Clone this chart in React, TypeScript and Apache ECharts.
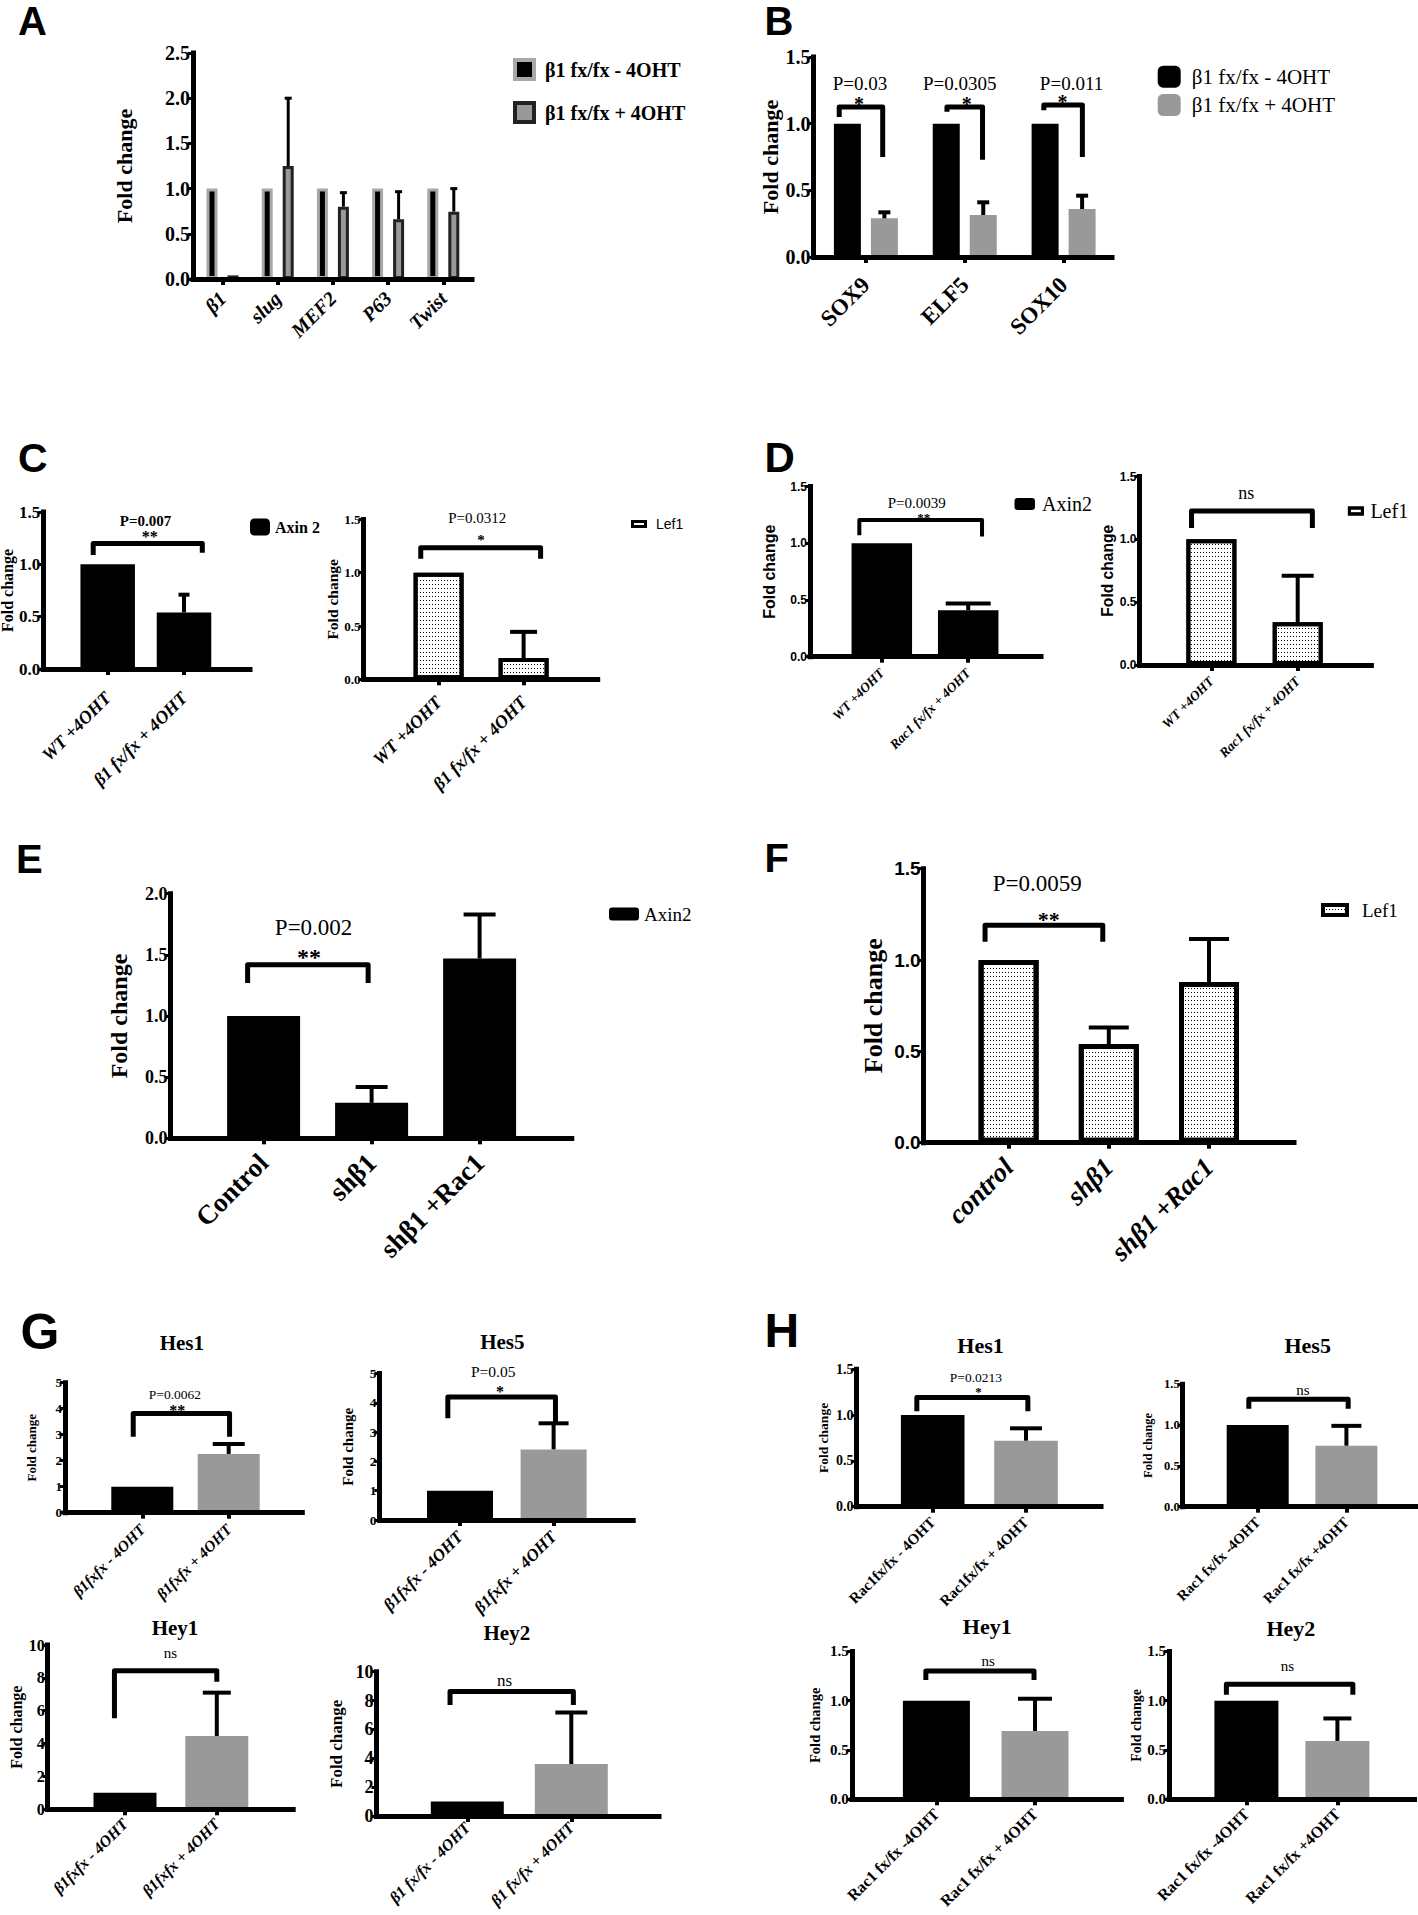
import React, { useEffect, useRef } from "react";
import * as echarts from "echarts";

const SERIF = "Liberation Serif";
const SANS = "Liberation Sans";
const BLACK = "#000000";
const GRAY = "#999999";

// ================= DATA =================
// Panel A
const aCategories = ["β1", "slug", "MEF2", "P63", "Twist"];
const aLegend = ["β1 fx/fx - 4OHT", "β1 fx/fx + 4OHT"];
const aMinus4OHT = [1, 1, 1, 1, 1];
const aPlus4OHT = [0.04, 1.25, 0.8, 0.66, 0.745];
const aMinusErrTop = [null, null, null, null, null];
const aPlusErrTop = [null, 2.0, 0.955, 0.966, 1.0];

// Panel B
const bCategories = ["SOX9", "ELF5", "SOX10"];
const bLegend = ["β1 fx/fx - 4OHT", "β1 fx/fx + 4OHT"];
const bMinus4OHT = [1, 1, 1];
const bPlus4OHT = [0.29, 0.315, 0.36];
const bMinusErrTop = [null, null, null];
const bPlusErrTop = [0.335, 0.41, 0.46];
const bPLabels = ["P=0.03", "P=0.0305", "P=0.011"];
const bStars = ["*", "*", "*"];
// [leftX, rightX (category units), top, leftEnd, rightEnd]
const bBrackets = [
  [-0.27, 0.17, 1.125, 1.05, 0.75],
  [0.82, 1.18, 1.125, 1.09, 0.73],
  [1.8, 2.19, 1.14, 1.1, 0.75],
];

// Panel C
const cCategories = ["WT +4OHT", "β1 fx/fx + 4OHT"];
const cAxin2 = [1.0, 0.54];
const cAxin2ErrTop = [null, 0.71];
const cAxin2Bracket = [[-0.19, 1.24, 1.2, 1.09, 1.11]];
const cLef1 = [1.0, 0.2];
const cLef1ErrTop = [null, 0.445];
const cLef1Bracket = [[-0.21, 1.2, 1.235, 1.13, 1.13]];

// Panel D
const dCategories = ["WT +4OHT", "Rac1 fx/fx + 4OHT"];
const dAxin2 = [1.0, 0.41];
const dAxin2ErrTop = [null, 0.47];
const dAxin2Bracket = [[-0.26, 1.16, 1.205, 1.07, 1.06]];
const dLef1 = [1.0, 0.34];
const dLef1ErrTop = [null, 0.71];
const dLef1Bracket = [[-0.23, 1.17, 1.225, 1.09, 1.09]];

// Panel E
const eCategories = ["Control", "shβ1", "shβ1 +Rac1"];
const eAxin2 = [1.0, 0.29, 1.47];
const eAxin2ErrTop = [null, 0.42, 1.83];
const eBracket = [[-0.148, 0.968, 1.42, 1.27, 1.27]];

// Panel F
const fCategories = ["control", "shβ1", "shβ1 +Rac1"];
const fLef1 = [1.0, 0.54, 0.88];
const fLef1ErrTop = [null, 0.63, 1.115];
const fBracket = [[-0.235, 0.94, 1.19, 1.1, 1.1]];

// Panel G
const gCatsShort = ["β1fxfx - 4OHT", "β1fxfx + 4OHT"];
const gCatsLong = ["β1 fx/fx - 4OHT", "β1 fx/fx + 4OHT"];
const gHes1 = [1.0, 2.26];
const gHes1ErrTop = [null, 2.64];
const gHes1Bracket = [[-0.105, 1.01, 3.82, 2.92, 2.92]];
const gHes5 = [1.0, 2.41];
const gHes5ErrTop = [null, 3.3];
const gHes5Bracket = [[-0.13, 1.02, 4.2, 3.47, 3.3]];
const gHey1 = [1.0, 4.46];
const gHey1ErrTop = [null, 7.1];
const gHey1Bracket = [[-0.115, 1.0, 8.44, 5.54, 7.77]];
const gHey2 = [1.0, 3.6];
const gHey2ErrTop = [null, 7.17];
const gHey2Bracket = [[-0.166, 1.02, 8.63, 7.7, 7.7]];

// Panel H
const hCatsHes1 = ["Rac1fx/fx - 4OHT", "Rac1fx/fx + 4OHT"];
const hCatsHes5 = ["Rac1 fx/fx -4OHT", "Rac1 fx/fx +4OHT"];
const hCatsHey1 = ["Rac1 fx/fx -4OHT", "Rac1 fx/fx + 4OHT"];
const hCatsHey2 = ["Rac1 fx/fx -4OHT", "Rac1 fx/fx +4OHT"];
const hHes1 = [1.0, 0.72];
const hHes1ErrTop = [null, 0.855];
const hHes1Bracket = [[-0.17, 1.02, 1.19, 1.04, 1.04]];
const hHes5 = [1.0, 0.747];
const hHes5ErrTop = [null, 0.99];
const hHes5Bracket = [[-0.1, 1.02, 1.315, 1.2, 1.2]];
const hHey1 = [1.0, 0.693];
const hHey1ErrTop = [null, 1.02];
const hHey1Bracket = [[-0.107, 0.99, 1.3, 1.21, 1.21]];
const hHey2 = [1.0, 0.592];
const hHey2ErrTop = [null, 0.82];
const hHey2Bracket = [[-0.22, 1.17, 1.166, 1.06, 1.06]];

const pairColors = [BLACK, GRAY];

// ================= STYLES =================
const dotDecal = {
  symbol: "rect",
  symbolSize: 1,
  dashArrayX: [1, 2],
  dashArrayY: [1, 3],
  color: "#000",
};
const dotted = (bw: number) => ({ color: "#ffffff", borderColor: "#000", borderWidth: bw, decal: dotDecal });

type Panel = any;

const panels: Panel[] = [
  // ---------- A ----------
  {
    axisX: 193, axisEnd: 472, zeroY: 279, maxY: 53, c0: 222.5, step: 55.2,
    yMax: 2.5, yInt: 0.5, dec: 1, yLabelSize: 20, yLabelFamily: SERIF,
    yTitleSize: 22, yTitleFamily: SERIF, yTitleGap: 58,
    cats: aCategories, xLabelSize: 20, xItalic: true, xMargin: 16,
    barWidth: 11, barGapPx: 10,
    bars: [
      { name: "A-1", label: aLegend[0], values: aMinus4OHT, errTop: aMinusErrTop, style: { color: BLACK, borderColor: "#a8a8a8", borderWidth: 3 } },
      { name: "A-2", label: aLegend[1], values: aPlus4OHT, errTop: aPlusErrTop, style: { color: GRAY, borderColor: "#222", borderWidth: 3 } },
    ],
    errLW: 3, errCap: 7, brackets: [], bracketLW: 5, notes: [], axisLW: 5,
    legend: {
      left: 513, top: 58, w: 19, h: 19, gap: 20, size: 20, bold: true, family: SERIF, pad: 6, icon: "rect",
      items: [
        { bar: 0, style: { color: BLACK, borderColor: "#a8a8a8", borderWidth: 4 } },
        { bar: 1, style: { color: GRAY, borderColor: "#222", borderWidth: 4 } },
      ],
    },
  },
  // ---------- B ----------
  {
    axisX: 813.6, axisEnd: 1112, zeroY: 257, maxY: 57, c0: 865.9, step: 98.85,
    yMax: 1.5, yInt: 0.5, dec: 1, yLabelSize: 20, yLabelFamily: SERIF,
    yTitleSize: 22, yTitleFamily: SERIF, yTitleGap: 31,
    cats: bCategories, xLabelSize: 23, xItalic: false, xMargin: 24,
    barWidth: 27, barGapPx: 10,
    bars: [
      { name: "B-1", label: bLegend[0], values: bMinus4OHT, errTop: bMinusErrTop, style: { color: BLACK } },
      { name: "B-2", label: bLegend[1], values: bPlus4OHT, errTop: bPlusErrTop, style: { color: GRAY } },
    ],
    errLW: 4, errCap: 12, brackets: bBrackets, bracketLW: 5, axisLW: 5,
    notes: [
      { text: bPLabels[0], x: -0.06, y: 1.305, size: 19 },
      { text: bPLabels[1], x: 0.95, y: 1.305, size: 19 },
      { text: bPLabels[2], x: 2.08, y: 1.305, size: 19 },
      { text: bStars[0], x: -0.07, y: 1.145, size: 20, bold: true },
      { text: bStars[1], x: 1.02, y: 1.145, size: 20, bold: true },
      { text: bStars[2], x: 1.99, y: 1.16, size: 20, bold: true },
    ],
    legend: {
      left: 1157.7, top: 65.7, w: 23, h: 22, gap: 6.3, size: 21, family: SERIF, pad: 6, icon: "roundRect",
      items: [{ bar: 0, style: { color: BLACK } }, { bar: 1, style: { color: GRAY } }],
    },
  },
  // ---------- C left ----------
  {
    axisX: 43.2, axisEnd: 250, zeroY: 669, maxY: 512, c0: 107.7, step: 76.3,
    yMax: 1.5, yInt: 0.5, dec: 1, yLabelSize: 17, yLabelFamily: SERIF,
    yTitleSize: 16, yTitleFamily: SERIF, yTitleGap: 23,
    cats: cCategories, xLabelSize: 18, xItalic: true, xMargin: 26,
    barWidth: 54.5, barGapPx: 0,
    bars: [{ name: "C-Axin", label: "Axin 2", values: cAxin2, errTop: cAxin2ErrTop, style: { color: BLACK } }],
    errLW: 4, errCap: 11, brackets: cAxin2Bracket, bracketLW: 5, axisLW: 5,
    notes: [
      { text: "P=0.007", x: 0.495, y: 1.416, size: 15, bold: true },
      { text: "**", x: 0.55, y: 1.268, size: 16, bold: true },
    ],
    legend: {
      left: 250, top: 518.5, w: 20, h: 17, gap: 5, size: 16, bold: true, family: SERIF, pad: 0, icon: "roundRect",
      items: [{ bar: 0, style: { color: BLACK } }],
    },
  },
  // ---------- C right ----------
  {
    axisX: 363.6, axisEnd: 597.7, zeroY: 679.3, maxY: 519.4, c0: 438.6, step: 85,
    yMax: 1.5, yInt: 0.5, dec: 1, yLabelSize: 13, yLabelFamily: SERIF,
    yTitleSize: 15.5, yTitleFamily: SERIF, yTitleGap: 21.8,
    cats: cCategories, xLabelSize: 18, xItalic: true, xMargin: 20,
    barWidth: 50, barGapPx: 0,
    bars: [{ name: "C-Lef1", label: "Lef1", values: cLef1, errTop: cLef1ErrTop, style: dotted(4) }],
    errLW: 4, errCap: 27, brackets: cLef1Bracket, bracketLW: 5, axisLW: 5,
    notes: [
      { text: "P=0.0312", x: 0.455, y: 1.513, size: 15 },
      { text: "*", x: 0.5, y: 1.304, size: 15, bold: true },
    ],
    legend: {
      left: 631, top: 517, w: 13, h: 5, gap: 5, size: 14, family: SANS, pad: 5.5, icon: "rect",
      items: [{ bar: 0, style: dotted(3) }],
    },
  },
  // ---------- D left ----------
  {
    axisX: 810, axisEnd: 1041, zeroY: 656.7, maxY: 486.6, c0: 881.8, step: 86.4,
    yMax: 1.5, yInt: 0.5, dec: 1, yLabelSize: 12, yLabelFamily: SANS,
    yTitleSize: 16, yTitleFamily: SANS, yTitleGap: 33,
    cats: dCategories, xLabelSize: 13.5, xItalic: true, xMargin: 14,
    barWidth: 60.5, barGapPx: 0,
    bars: [{ name: "D-Axin", label: "Axin2", values: dAxin2, errTop: dAxin2ErrTop, style: { color: BLACK } }],
    errLW: 4, errCap: 45, brackets: dAxin2Bracket, bracketLW: 4, axisLW: 5,
    notes: [
      { text: "P=0.0039", x: 0.405, y: 1.353, size: 15 },
      { text: "**", x: 0.485, y: 1.224, size: 13, bold: true },
    ],
    legend: {
      left: 1014.5, top: 494, w: 20.5, h: 12, gap: 5, size: 20, family: SERIF, pad: 2, icon: "roundRect",
      items: [{ bar: 0, style: { color: BLACK } }],
    },
  },
  // ---------- D right ----------
  {
    axisX: 1139.5, axisEnd: 1371.4, zeroY: 665, maxY: 476.5, c0: 1211.4, step: 86.3,
    yMax: 1.5, yInt: 0.5, dec: 1, yLabelSize: 12, yLabelFamily: SANS,
    yTitleSize: 15.6, yTitleFamily: SANS, yTitleGap: 24,
    cats: dCategories, xLabelSize: 13.5, xItalic: true, xMargin: 14,
    barWidth: 50, barGapPx: 0,
    bars: [{ name: "D-Lef1", label: "Lef1", values: dLef1, errTop: dLef1ErrTop, style: dotted(4) }],
    errLW: 4, errCap: 32, brackets: dLef1Bracket, bracketLW: 5, axisLW: 5,
    notes: [{ text: "ns", x: 0.405, y: 1.367, size: 18 }],
    legend: {
      left: 1347.9, top: 501, w: 13, h: 6, gap: 5, size: 20, family: SERIF, pad: 3, icon: "rect",
      items: [{ bar: 0, style: { color: "#fff", borderColor: "#000", borderWidth: 3 } }],
    },
  },
  // ---------- E ----------
  {
    axisX: 170.5, axisEnd: 571.8, zeroY: 1138.3, maxY: 893.7, c0: 263.6, step: 108,
    yMax: 2, yInt: 0.5, dec: 1, yLabelSize: 18, yLabelFamily: SERIF,
    yTitleSize: 24, yTitleFamily: SERIF, yTitleGap: 39.5,
    cats: eCategories, xLabelSize: 27, xItalic: false, xMargin: 20,
    barWidth: 73, barGapPx: 0,
    bars: [{ name: "E-Axin", label: "Axin2", values: eAxin2, errTop: eAxin2ErrTop, style: { color: BLACK } }],
    errLW: 4, errCap: 32, brackets: eBracket, bracketLW: 5, axisLW: 5,
    notes: [
      { text: "P=0.002", x: 0.463, y: 1.725, size: 23 },
      { text: "**", x: 0.42, y: 1.482, size: 24, bold: true },
    ],
    legend: {
      left: 609, top: 904.5, w: 30, h: 13, gap: 5, size: 19, family: SERIF, pad: 0, icon: "roundRect",
      items: [{ bar: 0, style: { color: BLACK } }],
    },
  },
  // ---------- F ----------
  {
    axisX: 923.6, axisEnd: 1294, zeroY: 1142.7, maxY: 868.7, c0: 1008.6, step: 100.2,
    yMax: 1.5, yInt: 0.5, dec: 1, yLabelSize: 19, yLabelFamily: SANS,
    yTitleSize: 26, yTitleFamily: SERIF, yTitleGap: 37,
    cats: fCategories, xLabelSize: 27, xItalic: true, xMargin: 20,
    barWidth: 60, barGapPx: 0,
    bars: [{ name: "F-Lef1", label: "Lef1", values: fLef1, errTop: fLef1ErrTop, style: dotted(5) }],
    errLW: 4, errCap: 40, brackets: fBracket, bracketLW: 5, axisLW: 5,
    notes: [
      { text: "P=0.0059", x: 0.286, y: 1.42, size: 23 },
      { text: "**", x: 0.4, y: 1.22, size: 22, bold: true },
    ],
    legend: {
      left: 1321, top: 900.5, w: 24, h: 10, gap: 5, size: 19, family: SERIF, pad: 10, icon: "rect",
      items: [{ bar: 0, style: dotted(4) }],
    },
  },
  // ---------- G Hes1 ----------
  {
    axisX: 65, axisEnd: 302.3, zeroY: 1512.7, maxY: 1382.7, c0: 142.3, step: 86.4,
    yMax: 5, yInt: 1, dec: 0, yLabelSize: 13, yLabelFamily: SERIF,
    yTitleSize: 13, yTitleFamily: SERIF, yTitleGap: 26.7,
    cats: gCatsShort, xLabelSize: 15.5, xItalic: true, xMargin: 14,
    barWidth: 62, barGapPx: 0,
    bars: [{ name: "G-Hes1", label: "Hes1", values: gHes1, errTop: gHes1ErrTop, colors: pairColors, style: {} }],
    errLW: 4, errCap: 32, brackets: gHes1Bracket, bracketLW: 5, axisLW: 5,
    notes: [
      { text: "P=0.0062", x: 0.378, y: 4.55, size: 13.5 },
      { text: "**", x: 0.405, y: 3.94, size: 16, bold: true },
    ],
    title: { text: "Hes1", x: 181.8, y: 1343.3, size: 21 },
  },
  // ---------- G Hes5 ----------
  {
    axisX: 379.5, axisEnd: 633.2, zeroY: 1520, maxY: 1373.5, c0: 460, step: 93.6,
    yMax: 5, yInt: 1, dec: 0, yLabelSize: 13.5, yLabelFamily: SERIF,
    yTitleSize: 15, yTitleFamily: SERIF, yTitleGap: 24.3,
    cats: gCatsShort, xLabelSize: 17, xItalic: true, xMargin: 14,
    barWidth: 66, barGapPx: 0,
    bars: [{ name: "G-Hes5", label: "Hes5", values: gHes5, errTop: gHes5ErrTop, colors: pairColors, style: {} }],
    errLW: 4, errCap: 30, brackets: gHes5Bracket, bracketLW: 5, axisLW: 5,
    notes: [
      { text: "P=0.05", x: 0.355, y: 5.06, size: 15.5 },
      { text: "*", x: 0.427, y: 4.375, size: 16, bold: true },
    ],
    title: { text: "Hes5", x: 502.3, y: 1341.7, size: 21 },
  },
  // ---------- G Hey1 ----------
  {
    axisX: 47.7, axisEnd: 293.2, zeroY: 1809.3, maxY: 1645, c0: 125, step: 91.8,
    yMax: 10, yInt: 2, dec: 0, yLabelSize: 16, yLabelFamily: SERIF,
    yTitleSize: 16, yTitleFamily: SERIF, yTitleGap: 15,
    cats: gCatsShort, xLabelSize: 16, xItalic: true, xMargin: 12,
    barWidth: 63, barGapPx: 0,
    bars: [{ name: "G-Hey1", label: "Hey1", values: gHey1, errTop: gHey1ErrTop, colors: pairColors, style: {} }],
    errLW: 4, errCap: 28, brackets: gHey1Bracket, bracketLW: 5, axisLW: 5,
    notes: [{ text: "ns", x: 0.496, y: 9.52, size: 15 }],
    title: { text: "Hey1", x: 175, y: 1628.3, size: 21 },
  },
  // ---------- G Hey2 ----------
  {
    axisX: 376.4, axisEnd: 659, zeroY: 1816, maxY: 1671.7, c0: 467.3, step: 104,
    yMax: 10, yInt: 2, dec: 0, yLabelSize: 18, yLabelFamily: SERIF,
    yTitleSize: 17, yTitleFamily: SERIF, yTitleGap: 31.5,
    cats: gCatsLong, xLabelSize: 16, xItalic: true, xMargin: 9,
    barWidth: 73, barGapPx: 0,
    bars: [{ name: "G-Hey2", label: "Hey2", values: gHey2, errTop: gHey2ErrTop, colors: pairColors, style: {} }],
    errLW: 4, errCap: 32, brackets: gHey2Bracket, bracketLW: 5, axisLW: 5,
    notes: [{ text: "ns", x: 0.358, y: 9.36, size: 17 }],
    title: { text: "Hey2", x: 506.8, y: 1633.3, size: 21 },
  },
  // ---------- H Hes1 ----------
  {
    axisX: 856.4, axisEnd: 1101, zeroY: 1506.7, maxY: 1369.2, c0: 932.7, step: 93.3,
    yMax: 1.5, yInt: 0.5, dec: 1, yLabelSize: 14, yLabelFamily: SERIF,
    yTitleSize: 13.5, yTitleFamily: SERIF, yTitleGap: 26,
    cats: hCatsHes1, xLabelSize: 15, xItalic: false, xMargin: 13,
    barWidth: 63.6, barGapPx: 0,
    bars: [{ name: "H-Hes1", label: "Hes1", values: hHes1, errTop: hHes1ErrTop, colors: pairColors, style: {} }],
    errLW: 4, errCap: 32, brackets: hHes1Bracket, bracketLW: 5, axisLW: 5,
    notes: [
      { text: "P=0.0213", x: 0.463, y: 1.41, size: 13.5 },
      { text: "*", x: 0.49, y: 1.26, size: 13, bold: true },
    ],
    title: { text: "Hes1", x: 980.5, y: 1345, size: 22 },
  },
  // ---------- H Hes5 ----------
  {
    axisX: 1182.7, axisEnd: 1418, zeroY: 1506.7, maxY: 1384.2, c0: 1257.7, step: 88.7,
    yMax: 1.5, yInt: 0.5, dec: 1, yLabelSize: 12.5, yLabelFamily: SERIF,
    yTitleSize: 12.5, yTitleFamily: SERIF, yTitleGap: 27.8,
    cats: hCatsHes5, xLabelSize: 14.5, xItalic: false, xMargin: 13,
    barWidth: 62, barGapPx: 0,
    bars: [{ name: "H-Hes5", label: "Hes5", values: hHes5, errTop: hHes5ErrTop, colors: pairColors, style: {} }],
    errLW: 4, errCap: 30, brackets: hHes5Bracket, bracketLW: 5, axisLW: 5,
    notes: [{ text: "ns", x: 0.51, y: 1.43, size: 15 }],
    title: { text: "Hes5", x: 1307.7, y: 1345, size: 22 },
  },
  // ---------- H Hey1 ----------
  {
    axisX: 851.8, axisEnd: 1121.4, zeroY: 1799.3, maxY: 1651.4, c0: 936.4, step: 98.6,
    yMax: 1.5, yInt: 0.5, dec: 1, yLabelSize: 15, yLabelFamily: SERIF,
    yTitleSize: 14.5, yTitleFamily: SERIF, yTitleGap: 29,
    cats: hCatsHey1, xLabelSize: 16, xItalic: false, xMargin: 12,
    barWidth: 67, barGapPx: 0,
    bars: [{ name: "H-Hey1", label: "Hey1", values: hHey1, errTop: hHey1ErrTop, colors: pairColors, style: {} }],
    errLW: 4, errCap: 34, brackets: hHey1Bracket, bracketLW: 5, axisLW: 5,
    notes: [{ text: "ns", x: 0.525, y: 1.405, size: 15 }],
    title: { text: "Hey1", x: 987.3, y: 1626.7, size: 22 },
  },
  // ---------- H Hey2 ----------
  {
    axisX: 1169, axisEnd: 1414.5, zeroY: 1799.3, maxY: 1651.4, c0: 1246.4, step: 91,
    yMax: 1.5, yInt: 0.5, dec: 1, yLabelSize: 15, yLabelFamily: SERIF,
    yTitleSize: 14, yTitleFamily: SERIF, yTitleGap: 24.7,
    cats: hCatsHey2, xLabelSize: 16, xItalic: false, xMargin: 12,
    barWidth: 64, barGapPx: 0,
    bars: [{ name: "H-Hey2", label: "Hey2", values: hHey2, errTop: hHey2ErrTop, colors: pairColors, style: {} }],
    errLW: 4, errCap: 28, brackets: hHey2Bracket, bracketLW: 5, axisLW: 5,
    notes: [{ text: "ns", x: 0.45, y: 1.354, size: 15 }],
    title: { text: "Hey2", x: 1290.9, y: 1628.3, size: 22 },
  },
];

const panelLetters = [
  { text: "A", x: 18, y: 21, size: 40 },
  { text: "B", x: 764.5, y: 21, size: 40 },
  { text: "C", x: 18, y: 457.5, size: 41 },
  { text: "D", x: 764.5, y: 457, size: 42 },
  { text: "E", x: 16, y: 859, size: 40 },
  { text: "F", x: 764.5, y: 857.5, size: 40 },
  { text: "G", x: 20.5, y: 1331.5, size: 50 },
  { text: "H", x: 764.5, y: 1330.5, size: 48 },
];

function textStyle(text: string, size: number, family: string, weight: string, align: string) {
  return {
    text,
    fill: "#000",
    fontSize: size,
    fontFamily: family,
    fontWeight: weight,
    align,
    verticalAlign: "middle",
    textAlign: align,
    textVerticalAlign: "middle",
  };
}

function buildOption() {
  const opt: any = {
    animation: false,
    backgroundColor: "#ffffff",
    grid: [],
    xAxis: [],
    yAxis: [],
    series: [],
    legend: [],
    graphic: { elements: [] as any[] },
  };
  const labelMap: Record<string, string> = {};

  panels.forEach((p: any) => {
    const gi = opt.grid.length;
    const h = p.zeroY - p.maxY;
    opt.grid.push({
      left: p.axisX, top: p.maxY, width: p.axisEnd - p.axisX, height: h,
      containLabel: false, outerBoundsMode: "none",
    });
    opt.grid.push({
      left: p.c0 - p.step / 2, top: p.maxY, width: p.step * p.cats.length, height: h,
      containLabel: false, outerBoundsMode: "none",
    });

    const fx = opt.xAxis.length;
    opt.xAxis.push({
      type: "category", gridIndex: gi, data: [""], z: 6,
      axisLine: { show: true, lineStyle: { color: "#000", width: p.axisLW, cap: "square" } },
      axisTick: { show: false }, axisLabel: { show: false }, splitLine: { show: false },
    });
    opt.xAxis.push({
      type: "category", gridIndex: gi + 1, data: p.cats, z: 6,
      axisLine: { show: false },
      axisTick: { show: true, alignWithLabel: true, interval: 0, length: 6, lineStyle: { color: "#000", width: 4 } },
      axisLabel: {
        interval: 0, rotate: 45, margin: p.xMargin, color: "#000",
        fontFamily: SERIF, fontWeight: "bold", fontStyle: p.xItalic ? "italic" : "normal", fontSize: p.xLabelSize,
      },
      splitLine: { show: false },
    });
    const fy = opt.yAxis.length;
    opt.yAxis.push({
      type: "value", gridIndex: gi, min: 0, max: p.yMax, interval: p.yInt, z: 6,
      axisLine: { show: true, lineStyle: { color: "#000", width: p.axisLW, cap: "square" } },
      axisTick: { show: true, length: 5, lineStyle: { color: "#000", width: 3 } },
      axisLabel: {
        margin: 3, color: "#000", fontFamily: p.yLabelFamily, fontWeight: "bold", fontSize: p.yLabelSize,
        formatter: (v: number) => v.toFixed(p.dec),
      },
      splitLine: { show: false },
      name: "Fold change", nameLocation: "middle", nameGap: p.yTitleGap,
      nameTextStyle: { color: "#000", fontFamily: p.yTitleFamily, fontWeight: "bold", fontSize: p.yTitleSize },
    });
    opt.yAxis.push({ type: "value", gridIndex: gi + 1, min: 0, max: p.yMax, show: false, splitLine: { show: false } });

    const dx = fx + 1;
    const dy = fy + 1;
    const n = p.bars.length;
    const total = n * p.barWidth + (n - 1) * p.barGapPx;
    const offsets = p.bars.map((_: any, s: number) => -total / 2 + p.barWidth / 2 + s * (p.barWidth + p.barGapPx));
    const gapPct = (p.barGapPx / p.barWidth) * 100 + "%";

    p.bars.forEach((b: any) => {
      labelMap[b.name] = b.label;
      opt.series.push({
        type: "bar", name: b.name, xAxisIndex: dx, yAxisIndex: dy, barWidth: p.barWidth, barGap: gapPct, z: 2,
        itemStyle: b.style,
        data: b.values.map((v: number, i: number) => (b.colors ? { value: v, itemStyle: { color: b.colors[i] } } : v)),
      });
    });

    // error bars (upper SD only, as in the figure)
    const errData: number[][] = [];
    p.bars.forEach((b: any, s: number) =>
      b.errTop.forEach((t: number | null, i: number) => {
        if (t != null) errData.push([i, b.values[i], t, s]);
      })
    );
    if (errData.length) {
      opt.series.push({
        type: "custom", xAxisIndex: dx, yAxisIndex: dy, z: 3, encode: { x: 0, y: 1 }, data: errData,
        renderItem: (params: any, api: any) => {
          const i = api.value(0), v = api.value(1), t = api.value(2), s = api.value(3);
          const pb = api.coord([i, v]);
          const pt = api.coord([i, t]);
          const x = pb[0] + offsets[s];
          return {
            type: "group",
            children: [
              { type: "line", shape: { x1: x, y1: pb[1], x2: x, y2: pt[1] }, style: { stroke: "#000", lineWidth: p.errLW } },
              { type: "line", shape: { x1: x - p.errCap / 2, y1: pt[1], x2: x + p.errCap / 2, y2: pt[1] }, style: { stroke: "#000", lineWidth: p.errLW } },
            ],
          };
        },
      });
    }

    // significance brackets
    if (p.brackets.length) {
      opt.series.push({
        type: "custom", xAxisIndex: dx, yAxisIndex: dy, z: 3, encode: { x: 0, y: 1 },
        data: p.brackets.map((b: number[]) => [0, b[2]]),
        renderItem: (params: any, api: any) => {
          const b = p.brackets[params.dataIndex];
          const o = api.coord([0, 0]);
          const band = api.size([1, 0])[0];
          const X = (f: number) => o[0] + f * band;
          const Y = (v: number) => api.coord([0, v])[1];
          return {
            type: "polyline",
            shape: { points: [[X(b[0]), Y(b[3])], [X(b[0]), Y(b[2])], [X(b[1]), Y(b[2])], [X(b[1]), Y(b[4])]] },
            style: { stroke: "#000", fill: null, lineWidth: p.bracketLW, lineJoin: "round" },
          };
        },
      });
    }

    // annotations (P values, stars, ns)
    if (p.notes.length) {
      opt.series.push({
        type: "custom", xAxisIndex: dx, yAxisIndex: dy, z: 4, encode: { x: 0, y: 1 },
        data: p.notes.map((nt: any) => [0, nt.y]),
        renderItem: (params: any, api: any) => {
          const nt = p.notes[params.dataIndex];
          const o = api.coord([0, nt.y]);
          const band = api.size([1, 0])[0];
          return {
            type: "text",
            x: o[0] + nt.x * band,
            y: o[1],
            style: textStyle(nt.text, nt.size, nt.family || SERIF, nt.bold ? "bold" : "normal", "center"),
          };
        },
      });
    }

    if (p.legend) {
      const L = p.legend;
      opt.legend.push({
        left: L.left, top: L.top, orient: "vertical", padding: 0, itemGap: L.gap,
        itemWidth: L.w, itemHeight: L.h, selectedMode: false,
        formatter: (name: string) => labelMap[name] || name,
        textStyle: {
          color: "#000", fontFamily: L.family, fontSize: L.size, fontWeight: L.bold ? "bold" : "normal",
          lineHeight: L.size, padding: [0, 0, 0, L.pad],
        },
        data: L.items.map((it: any) => ({ name: p.bars[it.bar].name, icon: L.icon, itemStyle: it.style })),
      });
    }

    if (p.title) {
      opt.graphic.elements.push({
        type: "text", x: p.title.x, y: p.title.y, silent: true,
        style: textStyle(p.title.text, p.title.size, SERIF, "bold", "center"),
      });
    }
  });

  panelLetters.forEach((l) => {
    opt.graphic.elements.push({
      type: "text", x: l.x, y: l.y, silent: true,
      style: textStyle(l.text, l.size, SANS, "bold", "left"),
    });
  });

  return opt;
}

export default function App() {
  const ref = useRef<HTMLDivElement>(null);
  useEffect(() => {
    document.body.style.margin = "0";
    const chart = echarts.init(ref.current as HTMLDivElement, null, { renderer: "svg", width: 1418, height: 1915 });
    chart.setOption(buildOption());
    return () => chart.dispose();
  }, []);
  return (
    <div
      ref={ref}
      style={{ position: "absolute", left: 0, top: 0, width: 1418, height: 1915, background: "#ffffff" }}
    />
  );
}
